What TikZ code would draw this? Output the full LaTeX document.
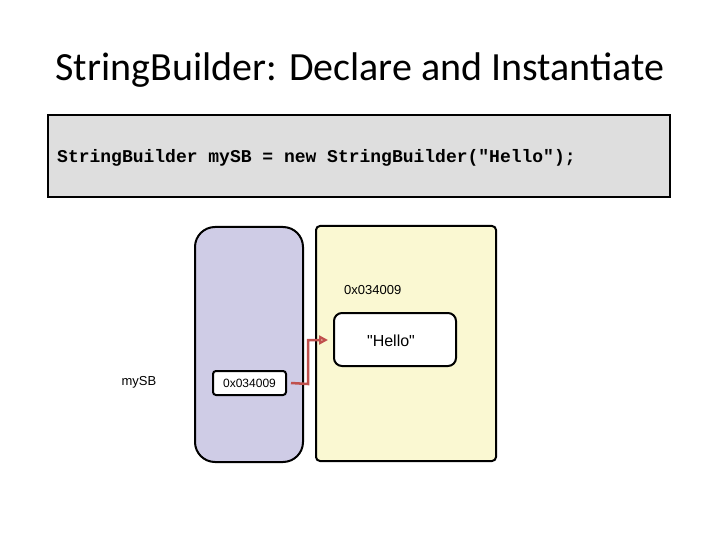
\documentclass[tikz,border=0pt]{standalone}
\usepackage{fontspec}
\setmainfont{Liberation Sans}[Ligatures=TeXOff]
\newfontfamily\titlefont{Carlito}
\newfontfamily\codefont{Liberation Mono}[Ligatures=TeXOff]
\usetikzlibrary{arrows.meta}
\definecolor{codebg}{HTML}{DEDEDE}
\definecolor{stackbg}{HTML}{CFCCE6}
\definecolor{heapbg}{HTML}{FAF8D2}
\definecolor{arrowred}{HTML}{C0504D}
\begin{document}
\begin{tikzpicture}[x=1pt,y=-1pt,
  lbl/.style={inner sep=0pt,font=\fontsize{13}{15}\selectfont},
  region/.style={draw=black,line width=2pt},
  valbox/.style={draw=black,line width=2pt,fill=white}]
\useasboundingbox (0,0) rectangle (720,540);
\node[inner sep=0pt,font=\titlefont\fontsize{40}{44}\selectfont] (title) at (360,70) {StringBuilder: Declare and Instantiate};
\draw[line width=2pt,fill=codebg] (48,115) rectangle (670,197);
\node[anchor=west,inner sep=0pt,font=\codefont\bfseries\fontsize{18}{20}\selectfont] (code) at (57,158) {StringBuilder mySB = new StringBuilder("Hello");};
\draw[region,fill=stackbg,rounded corners=20pt] (195,227) rectangle (303,462);
\draw[region,fill=heapbg,rounded corners=4pt] (316,226) rectangle (496,461);
\node[lbl,anchor=west] (addr) at (344,290) {0x034009};
\node[valbox,rounded corners=8pt,minimum width=122pt,minimum height=53pt,inner sep=0pt] (hello) at (395,339.5) {};
\node[lbl,font=\fontsize{16}{18}\selectfont] (hellotxt) at (391,341) {"Hello"};
\node[valbox,rounded corners=3pt,minimum width=73pt,minimum height=24pt,inner sep=0pt,font=\fontsize{12}{14}\selectfont] (ref) at (249.5,383) {0x034009};
\node[lbl] (mysb) at (139,382) {mySB};
\coordinate (tip) at (328,340);
\draw[arrowred,line width=2.5pt,-{Triangle[open,length=9pt,width=9pt]}] ([xshift=4pt]ref.east) -- (308,384) -- (308,340) -- (tip);
\end{tikzpicture}
\end{document}
